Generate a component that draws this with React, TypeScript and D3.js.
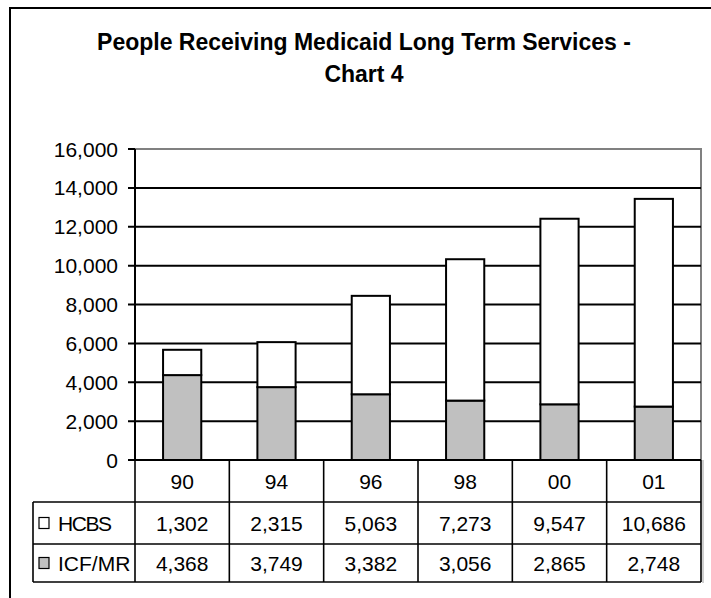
import React from "react";
import * as d3 from "d3";

// Survey years (two-digit labels) and people served per programme
const years = ["90", "94", "96", "98", "00", "01"];
const hcbs = [1302, 2315, 5063, 7273, 9547, 10686];
const icfmr = [4368, 3749, 3382, 3056, 2865, 2748];
const yTicks = [0, 2000, 4000, 6000, 8000, 10000, 12000, 14000, 16000];

const W = 711;
const H = 598;
const FONT = "'Liberation Sans', Arial, sans-serif";

const plot = { left: 135, right: 701, top: 149, bottom: 460 };
const tableLeft = 33;
const rowEdges = [460, 502, 544, 582];
const titleX = 364;
const LINE = 2;

export default function App() {
  const x = d3.scaleBand<string>().domain(years).range([plot.left, plot.right]).paddingInner(0).paddingOuter(0);
  const y = d3.scaleLinear().domain([0, 16000]).range([plot.bottom, plot.top]);
  const fmt = d3.format(",");
  const barW = x.bandwidth() * 0.405;

  const stacked = d3.stack<any>().keys(["icfmr", "hcbs"])(
    years.map((yr, i) => ({ year: yr, icfmr: icfmr[i], hcbs: hcbs[i] }))
  );
  const fills: Record<string, string> = { icfmr: "#c0c0c0", hcbs: "#ffffff" };

  const rowMid = (r: number) => (rowEdges[r] + rowEdges[r + 1]) / 2;

  return (
    <svg
      width={W}
      height={H}
      style={{ position: "absolute", left: 0, top: 0, background: "#fff" }}
      fontFamily={FONT}
    >
      {/* outer frame (right and bottom edges fall outside the view) */}
      <path d={`M10,${H + 5} L10,8 L${W + 5},8`} fill="none" stroke="#000" strokeWidth={2} />

      {/* title */}
      <text x={titleX} y={50} textAnchor="middle" fontSize={23} fontWeight="bold">
        People Receiving Medicaid Long Term Services -
      </text>
      <text x={titleX} y={82} textAnchor="middle" fontSize={23} fontWeight="bold">
        Chart 4
      </text>

      {/* plot border: top and right in grey */}
      <path
        d={`M${plot.left},${plot.top} L${plot.right},${plot.top} L${plot.right},${plot.bottom}`}
        fill="none"
        stroke="#808080"
        strokeWidth={LINE}
      />

      {/* gridlines with tick marks */}
      {yTicks.slice(1, -1).map((t) => (
        <line key={t} x1={plot.left - 7} x2={plot.right} y1={y(t)} y2={y(t)} stroke="#000" strokeWidth={LINE} />
      ))}
      <line x1={plot.left - 7} x2={plot.left} y1={y(16000)} y2={y(16000)} stroke="#000" strokeWidth={LINE} />

      {/* y axis labels */}
      {yTicks.map((t) => (
        <text key={t} x={118} y={y(t)} dy="0.36em" textAnchor="end" fontSize={21}>
          {fmt(t)}
        </text>
      ))}

      {/* stacked bars */}
      {stacked.map((s) =>
        s.map((d, i) => (
          <rect
            key={s.key + i}
            x={(x(years[i]) as number) + (x.bandwidth() - barW) / 2}
            y={y(d[1])}
            width={barW}
            height={y(d[0]) - y(d[1])}
            fill={fills[s.key]}
            stroke="#000"
            strokeWidth={LINE}
          />
        ))
      )}

      {/* y axis line */}
      <line x1={plot.left} x2={plot.left} y1={plot.top} y2={plot.bottom} stroke="#000" strokeWidth={2} />

      {/* data table */}
      <g stroke="#000" strokeWidth={1.6} fill="none">
        <line x1={plot.left - 7} x2={plot.right} y1={rowEdges[0]} y2={rowEdges[0]} strokeWidth={2.2} />
        <line x1={tableLeft} x2={plot.right} y1={rowEdges[1]} y2={rowEdges[1]} />
        <line x1={tableLeft} x2={plot.right} y1={rowEdges[2]} y2={rowEdges[2]} />
        <line x1={tableLeft} x2={plot.right} y1={rowEdges[3]} y2={rowEdges[3]} />
        <line x1={tableLeft} x2={tableLeft} y1={rowEdges[1]} y2={rowEdges[3]} />
        {years.map((yr) => (
          <line key={yr} x1={x(yr)} x2={x(yr)} y1={rowEdges[0]} y2={rowEdges[3]} />
        ))}
        <line x1={plot.right} x2={plot.right} y1={rowEdges[0]} y2={rowEdges[3]} />
      </g>
      <line x1={plot.right + 2} x2={plot.right + 2} y1={rowEdges[0]} y2={rowEdges[3] + 1} stroke="#a0a0a0" strokeWidth={1} />

      {/* category row */}
      {years.map((yr) => (
        <text key={yr} x={(x(yr) as number) + x.bandwidth() / 2} y={rowMid(0)} dy="0.36em" textAnchor="middle" fontSize={21}>
          {yr}
        </text>
      ))}

      {/* series rows */}
      {[
        { name: "HCBS", vals: hcbs, fill: fills.hcbs },
        { name: "ICF/MR", vals: icfmr, fill: fills.icfmr },
      ].map((row, r) => (
        <g key={row.name}>
          <rect x={39} y={rowMid(r + 1) - 5.5} width={10} height={11} fill={row.fill} stroke="#000" strokeWidth={1.2} />
          <text x={58} y={rowMid(r + 1)} dy="0.36em" fontSize={21} textLength={row.name === "HCBS" ? 54 : undefined}>
            {row.name}
          </text>
          {row.vals.map((v, i) => (
            <text
              key={i}
              x={(x(years[i]) as number) + x.bandwidth() / 2}
              y={rowMid(r + 1)}
              dy="0.36em"
              textAnchor="middle"
              fontSize={21}
            >
              {fmt(v)}
            </text>
          ))}
        </g>
      ))}
    </svg>
  );
}
